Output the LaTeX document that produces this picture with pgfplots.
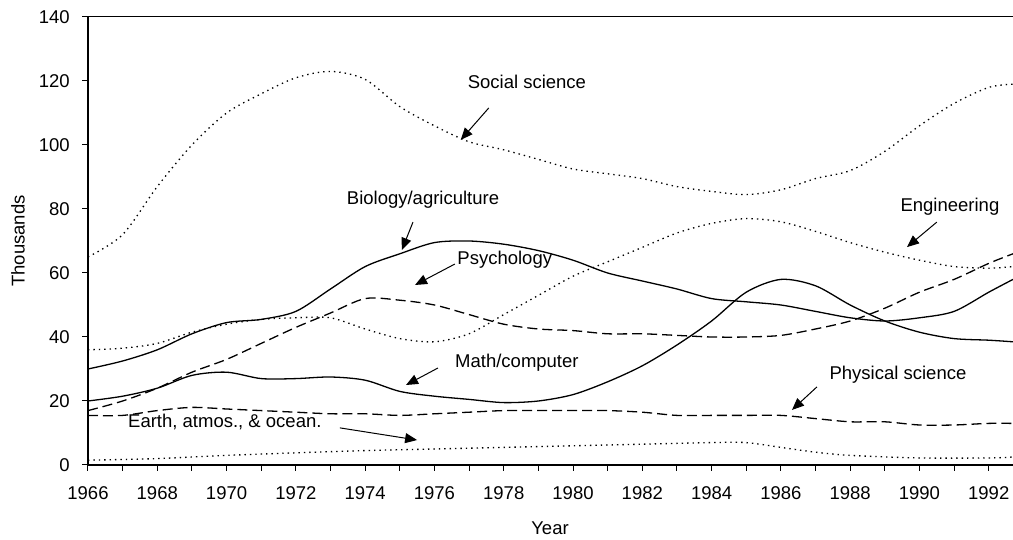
\documentclass[border=0pt]{standalone}
\usepackage{fontspec}
\setmainfont{Liberation Sans}
\usepackage{pgfplots}
\pgfplotsset{compat=1.18}
\usetikzlibrary{arrows.meta}
\begin{document}
\fontsize{18.5}{21}\selectfont
\begin{tikzpicture}
\begin{axis}[
  at={(0pt,0pt)}, anchor=south west,
  scale only axis, width=925pt, height=448pt,
  xmin=1966, xmax=1992.7, ymin=0, ymax=140,
  axis line style={draw=none},
  xtick pos=bottom, ytick pos=left,
  xtick={1966,1968,...,1992}, minor xtick={1967,1969,...,1991},
  ytick={0,20,...,140},
  tick align=outside,
  major tick length=6pt, minor tick length=6pt,
  every tick/.style={black, line width=1pt},
  /pgf/number format/1000 sep={},
  /pgf/number format/assume math mode=true,
  tick label style={font=\fontsize{18.5}{21}\selectfont},
  xticklabel style={yshift=-9pt},
  yticklabel style={xshift=-6pt},
  every axis plot/.append style={black, line width=1.3pt, smooth, tension=0.5, mark=none},
  clip=false,
]
% Social science
\addplot[dash pattern=on 1.4pt off 4pt] coordinates {(1966,65)(1967,72)(1968,87)(1969,100)(1970,110)(1971,116)(1972,121)(1973,123)(1974,120.5)(1975,112)(1976,106)(1977,101)(1978,98.5)(1979,95.5)(1980,92.5)(1981,91)(1982,89.5)(1983,87)(1984,85.5)(1985,84.5)(1986,86)(1987,89.5)(1988,92)(1989,98)(1990,106)(1991,113)(1992,118)(1992.7,119)};
% Engineering
\addplot[dash pattern=on 1.4pt off 4pt] coordinates {(1966,36)(1967,36.5)(1968,38)(1969,41.5)(1970,44)(1971,45.5)(1972,46)(1973,46)(1974,42.5)(1975,39.5)(1976,38.5)(1977,41)(1978,47)(1979,53)(1980,59)(1981,63.5)(1982,68)(1983,72.5)(1984,75.5)(1985,77)(1986,76)(1987,73)(1988,69.5)(1989,66.5)(1990,64)(1991,62)(1992,61.5)(1992.7,62)};
% Biology/agriculture
\addplot[solid] coordinates {(1966,30)(1967,32.5)(1968,36)(1969,41)(1970,44.5)(1971,45.5)(1972,48)(1973,55)(1974,62)(1975,66)(1976,69.5)(1977,70)(1978,69)(1979,67)(1980,64)(1981,60)(1982,57.5)(1983,55)(1984,52)(1985,51)(1986,50)(1987,48)(1988,46)(1989,45)(1990,46)(1991,48)(1992,54)(1992.7,58)};
% Psychology
\addplot[dash pattern=on 10pt off 5pt] coordinates {(1966,17)(1967,20)(1968,24)(1969,29)(1970,33)(1971,38)(1972,43)(1973,47.5)(1974,52)(1975,51.5)(1976,50)(1977,47)(1978,44)(1979,42.5)(1980,42)(1981,41)(1982,41)(1983,40.5)(1984,40)(1985,40)(1986,40.5)(1987,42.5)(1988,45)(1989,49)(1990,54)(1991,58)(1992,63)(1992.7,66)};
% Math/computer
\addplot[solid] coordinates {(1966,20)(1967,21.5)(1968,24)(1969,28)(1970,29)(1971,27)(1972,27)(1973,27.5)(1974,26.5)(1975,23)(1976,21.5)(1977,20.5)(1978,19.5)(1979,20)(1980,22)(1981,26)(1982,31)(1983,37.5)(1984,45)(1985,54)(1986,58)(1987,56)(1988,50)(1989,45)(1990,41.5)(1991,39.5)(1992,39)(1992.7,38.5)};
% Physical science
\addplot[dash pattern=on 10pt off 5pt] coordinates {(1966,15.5)(1967,15.5)(1968,17)(1969,18)(1970,17.5)(1971,17)(1972,16.5)(1973,16)(1974,16)(1975,15.5)(1976,16)(1977,16.5)(1978,17)(1979,17)(1980,17)(1981,17)(1982,16.5)(1983,15.5)(1984,15.5)(1985,15.5)(1986,15.5)(1987,14.5)(1988,13.5)(1989,13.5)(1990,12.5)(1991,12.5)(1992,13)(1992.7,13)};
% Earth, atmos., & ocean
\addplot[dash pattern=on 1.4pt off 4pt] coordinates {(1966,1.5)(1968,2)(1970,3)(1972,3.8)(1974,4.5)(1976,5)(1978,5.5)(1980,6)(1982,6.5)(1984,7)(1985,7)(1986,5.5)(1987,4)(1988,3)(1990,2.2)(1992,2.2)(1992.7,2.5)};
% axis frame
\draw[line width=1.2pt] (rel axis cs:0,1) -- (rel axis cs:0,0) -- (rel axis cs:1,0);
\draw[line width=1pt] (rel axis cs:0,1) -- (rel axis cs:1,1);
% annotations
\tikzset{ann/.style={-{Triangle[length=12pt,width=10pt]}, line width=1pt, black}}
\node at (axis cs:1978.67,119.7) {Social science};
\draw[ann] (axis cs:1977.57,111.6) -- (axis cs:1976.76,101.6);
\node at (axis cs:1975.67,82.8) {Biology/agriculture};
\draw[ann] (axis cs:1975.38,75.9) -- (axis cs:1975.06,67.2);
\node at (axis cs:1978.03,64.1) {Psychology};
\draw[ann] (axis cs:1976.59,62.8) -- (axis cs:1975.44,56.25);
\node at (axis cs:1990.88,80.6) {Engineering};
\draw[ann] (axis cs:1990.5,75.9) -- (axis cs:1989.64,68.1);
\node at (axis cs:1978.38,31.9) {Math/computer};
\draw[ann] (axis cs:1976.1,30.3) -- (axis cs:1975.18,25);
\node at (axis cs:1989.38,28.1) {Physical science};
\draw[ann] (axis cs:1987.04,24.4) -- (axis cs:1986.32,17.2);
\node at (axis cs:1969.95,13.4) {Earth, atmos., \& ocean.};
\draw[ann] (axis cs:1973.27,11.6) -- (axis cs:1975.5,7.8);
\end{axis}
\node at (462pt,-63pt) {Year};
\node[rotate=90] at (-70pt,224pt) {Thousands};
\pgfresetboundingbox
\path (-88pt,-75pt) rectangle (925pt,465pt);
\end{tikzpicture}
\end{document}
